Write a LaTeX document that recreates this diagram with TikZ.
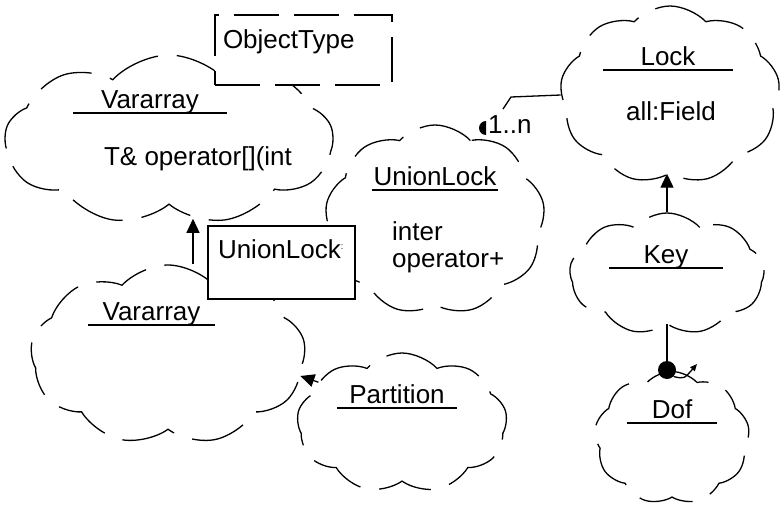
\documentclass[tikz,border=0pt]{standalone}
\usepackage{fontspec}
\setmainfont{Liberation Sans}
\usetikzlibrary{arrows.meta,positioning,shapes.symbols}

% class name with a fixed-width rule under it
\newcommand{\clsname}[2]{\makebox[#1]{#2}\llap{\rule[-5.5pt]{#1}{1.3pt}}}

\begin{document}
\begin{tikzpicture}[
    x=1pt, y=-1pt,
    every node/.style={font=\fontsize{26}{30}\selectfont, inner sep=0pt},
    cls/.style={
      cloud, cloud puffs=9, cloud puff arc=95, cloud ignores aspect,
      draw, line width=1.3pt,
      dash pattern=on 55pt off 19pt,
    },
    parbox/.style={
      rectangle, draw, fill=white, line width=1.3pt,
      dash pattern=on 45pt off 15pt,
      minimum width=177pt, minimum height=70pt,
      text width=161pt, inner xsep=8pt, text depth=21pt, align=left,
    },
    inbox/.style={
      rectangle, draw, fill=white, line width=1.3pt,
      minimum width=147pt, minimum height=73pt,
      text width=127pt, inner xsep=10pt, text depth=26pt, align=left,
    },
    txt/.style={anchor=base},
    ltxt/.style={anchor=base west},
    inh/.style={-{Triangle[length=14pt,width=13pt]}, line width=1.3pt},
    rel/.style={line width=1.3pt},
    hasdot/.style={circle, fill, minimum size=18pt},
  ]
  \useasboundingbox (0,0) rectangle (781,506);

  % Clouds
  \node[cls, minimum width=328pt, minimum height=170pt] (vtop)  at (169,140) {};
  \node[cls, minimum width=275pt, minimum height=180pt] (vinst) at (168,355) {};
  \node[cls, minimum width=220pt, minimum height=190pt] (ulock) at (435,220) {};
  \node[cls, minimum width=220pt, minimum height=178pt] (lock)  at (670,95)  {};
  \node[cls, minimum width=195pt, minimum height=122pt] (key)   at (667,274) {};
  \node[cls, minimum width=210pt, minimum height=140pt] (part)  at (402,423) {};
  \node[cls, minimum width=155pt, minimum height=133pt] (dof)   at (672,438) {};

  % Adornments
  \node[parbox] (objtype) at (303.5,50) {ObjectType};
  \node[inbox]  (ulockarg) at (281.5,262.5)
    {UnionLock{\fontsize{9}{9}\selectfont\raisebox{9pt}{:}}};

  % Class texts
  \node[txt]  (vtopname)  at (150,108) {\clsname{154pt}{Vararray}};
  \node[txt]  (vtopop)    at (198,165) {T\& operator[](int};
  \node[txt]  (vinstname) at (151.5,320) {\clsname{127pt}{Vararray}};
  \node[txt]  (ulockname) at (435,185) {\clsname{126pt}{UnionLock}};
  \node[ltxt] (ulockatt)  at (392,240) {inter};
  \node[ltxt] (ulockop)   at (392,267) {operator+};
  \node[txt]  (lockname)  at (668,65)  {\clsname{130pt}{Lock}};
  \node[txt]  (lockatt)   at (671,120) {all:Field};
  \node[txt]  (keyname)   at (666,263) {\clsname{114pt}{Key}};
  \node[txt]  (partname)  at (397,403) {\clsname{120pt}{Partition}};
  \node[txt]  (dofname)   at (672,418) {\clsname{90pt}{Dof}};

  % Inheritance
  \draw[inh] ([xshift=25pt]vinst.north) -- ([xshift=25pt]vinst.north |- vtop.-71);
  \draw[inh] (key.north) -- (key.north |- lock.south);
  \draw[inh] (part.154) -- (vinst.-9);

  % Has UnionLock -> Lock
  \coordinate (hasend) at (486,128);
  \coordinate (hasA)   at (503,109);
  \fill (hasend) ++(0,7) arc[start angle=90, end angle=270, radius=7] -- cycle;
  \node[ltxt] (card) at (488,133) {1..n};
  \draw[rel] (hasA) -- ++(8,-12) -- (lock.west);

  % Has Key -> Dof
  \node[hasdot] (dofdot) at (667,370) {};
  \draw[rel] (key.south -| dofdot) -- (dofdot);
  \coordinate (doftip) at (697,364);
  \draw[rel, -{Triangle[length=7pt,width=6pt]}] (dofdot.-45) .. controls (684,379) .. (doftip);

\end{tikzpicture}
\end{document}
